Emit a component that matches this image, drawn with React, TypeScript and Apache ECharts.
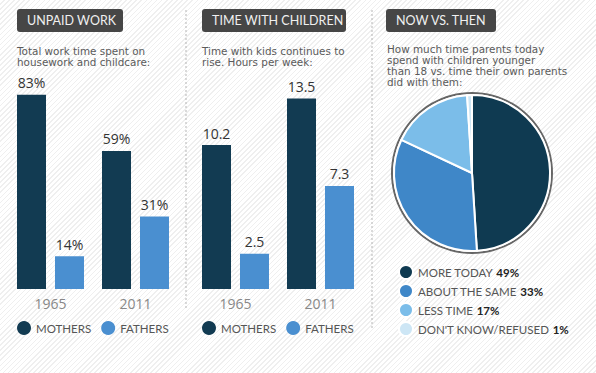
import React, { useEffect, useRef } from "react";
import * as echarts from "echarts";

const years = ["1965", "2011"];
const workMothers = [83, 59];
const workFathers = [14, 31];
const kidsMothers = [10.2, 13.5];
const kidsFathers = [2.5, 7.3];
const seriesNames = ["MOTHERS", "FATHERS"];
const pieNames = ["MORE TODAY", "ABOUT THE SAME", "LESS TIME", "DON'T KNOW/REFUSED"];
const pieValues = [49, 33, 17, 1];
const panelTitles = ["UNPAID WORK", "TIME WITH CHILDREN", "NOW VS. THEN"];
const panelSubtitles = [
  ["Total work time spent on", "housework and childcare:"],
  ["Time with kids continues to", "rise. Hours per week:"],
  [
    "How much time parents today",
    "spend with children younger",
    "than 18 vs. time their own parents",
    "did with them:",
  ],
];

const DARK = "#123b52";
const MID = "#4a8fd0";
const pieColors = ["#0f3a51", "#3f87c8", "#7bbde9", "#cde6f5"];
const SANS = "Lato, 'Noto Sans', sans-serif";
const WIDE = "'DejaVu Sans', Lato, sans-serif";
const NUM = "'Open Sans', 'Noto Sans', sans-serif";

export default function App() {
  const ref = useRef<HTMLDivElement>(null);
  useEffect(() => {
    if (!ref.current) return;
    const chart = echarts.init(ref.current, undefined, { renderer: "svg" });

    const barLabel = (fmt: string) => ({
      show: true,
      position: "top" as const,
      distance: 5,
      formatter: fmt,
      color: "#333",
      fontSize: 14,
      fontFamily: NUM,
    });

    const xAxisBase = {
      type: "category" as const,
      data: years,
      axisLine: { show: false },
      axisTick: { show: false },
      axisLabel: { color: "#888", fontSize: 14, fontFamily: NUM, margin: 7 },
    };
    const yAxisBase = { type: "value" as const, min: 0, show: false, splitLine: { show: false } };

    const titleBoxes = [
      { x: 17, w: 106, sx: 17, sy: 51 },
      { x: 202, w: 144, sx: 202, sy: 51 },
      { x: 386, w: 110, sx: 387, sy: 49 },
    ];

    const graphic: any[] = [];
    titleBoxes.forEach((b, i) => {
      graphic.push({
        type: "rect",
        shape: { x: b.x, y: 9, width: b.w, height: 23, r: 3 },
        style: { fill: "#464646" },
      });
      graphic.push({
        type: "text",
        x: b.x + 10,
        y: 20.5,
        style: {
          text: panelTitles[i],
          fill: "#f0f0f0",
          fontSize: 12.5,
          fontFamily: SANS,
          verticalAlign: "middle",
        },
      });
      panelSubtitles[i].forEach((line, j) => {
        graphic.push({
          type: "text",
          x: b.sx,
          y: b.sy + j * 11,
          style: {
            text: line,
            fill: "#5a5a5a",
            fontSize: 10.4,
            fontFamily: WIDE,
            verticalAlign: "middle",
          },
        });
      });
    });
    graphic.push({
      type: "line",
      shape: { x1: 186, y1: 10, x2: 186, y2: 308 },
      style: { stroke: "#b5b5b5", lineWidth: 1, lineDash: [2, 2] },
    });
    graphic.push({
      type: "line",
      shape: { x1: 372, y1: 10, x2: 372, y2: 330 },
      style: { stroke: "#b5b5b5", lineWidth: 1, lineDash: [2, 2] },
    });

    const legendBase = {
      icon: "circle",
      itemWidth: 14,
      itemHeight: 14,
      itemGap: 10,
      selectedMode: false,
      textStyle: { color: "#555", fontSize: 11.5, fontFamily: SANS },
      data: seriesNames,
    };

    chart.setOption({
      animation: false,
      backgroundColor: "transparent",
      grid: [
        { left: 8, width: 170, top: 55, height: 234 },
        { left: 193, width: 170, top: 49, height: 240 },
      ],
      xAxis: [
        { ...xAxisBase, gridIndex: 0 },
        { ...xAxisBase, gridIndex: 1 },
      ],
      yAxis: [
        { ...yAxisBase, gridIndex: 0, max: 100 },
        { ...yAxisBase, gridIndex: 1, max: 17 },
      ],
      legend: [
        { ...legendBase, left: 12, top: 316 },
        { ...legendBase, left: 197, top: 316 },
        {
          left: 393,
          top: 259,
          orient: "vertical",
          icon: "circle",
          itemWidth: 14,
          itemHeight: 14,
          itemGap: 3,
          selectedMode: false,
          data: pieNames,
          formatter: (name: string) => {
            const idx = pieNames.indexOf(name);
            return `{n|${name}} {v|${pieValues[idx]}%}`;
          },
          textStyle: {
            rich: {
              n: { color: "#555", fontSize: 11.5, fontFamily: SANS, lineHeight: 14 },
              v: { color: "#222", fontSize: 11.5, fontWeight: "bold", fontFamily: SANS, lineHeight: 14 },
            },
          },
        },
      ],
      graphic,
      series: [
        {
          name: seriesNames[0],
          type: "bar",
          xAxisIndex: 0,
          yAxisIndex: 0,
          data: workMothers,
          barWidth: 29,
          barGap: "31%",
          itemStyle: { color: DARK },
          label: barLabel("{c}%"),
        },
        {
          name: seriesNames[1],
          type: "bar",
          xAxisIndex: 0,
          yAxisIndex: 0,
          data: workFathers,
          barWidth: 29,
          barGap: "31%",
          itemStyle: { color: MID },
          label: barLabel("{c}%"),
        },
        {
          name: seriesNames[0],
          type: "bar",
          xAxisIndex: 1,
          yAxisIndex: 1,
          data: kidsMothers,
          barWidth: 29,
          barGap: "31%",
          itemStyle: { color: DARK },
          label: barLabel("{c}"),
        },
        {
          name: seriesNames[1],
          type: "bar",
          xAxisIndex: 1,
          yAxisIndex: 1,
          data: kidsFathers,
          barWidth: 29,
          barGap: "31%",
          itemStyle: { color: MID },
          label: barLabel("{c}"),
        },
        {
          type: "pie",
          center: [472, 173],
          radius: [79, 81],
          silent: true,
          label: { show: false },
          labelLine: { show: false },
          itemStyle: { color: "#666" },
          data: [{ value: 1, name: "outline" }],
          legendHoverLink: false,
        },
        {
          type: "pie",
          center: [472, 173],
          radius: [0, 78],
          startAngle: 90,
          clockwise: true,
          label: { show: false },
          labelLine: { show: false },
          itemStyle: { borderColor: "#fff", borderWidth: 2 },
          data: pieNames.map((n, i) => ({
            name: n,
            value: pieValues[i],
            itemStyle: { color: pieColors[i] },
          })),
        },
      ],
    });
    return () => chart.dispose();
  }, []);

  return (
    <div
      ref={ref}
      style={{
        position: "fixed",
        left: 0,
        top: 0,
        width: 596,
        height: 373,
        background:
          "repeating-linear-gradient(135deg, #ffffff 0px, #ffffff 2.5px, #efefef 2.5px, #efefef 3.6px)",
      }}
    />
  );
}
